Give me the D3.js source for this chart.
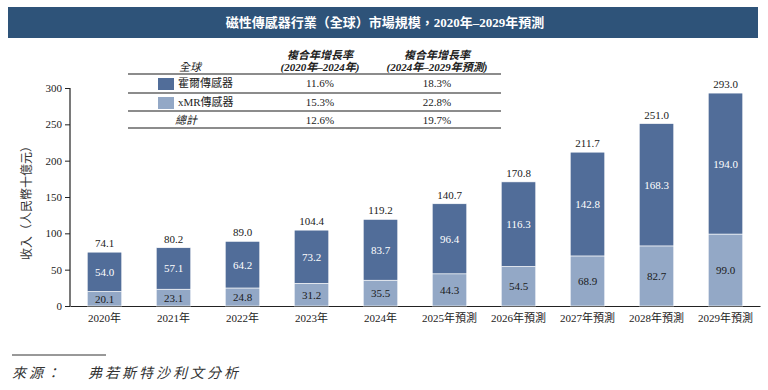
<!DOCTYPE html>
<html><head><meta charset="utf-8">
<script src="https://cdn.jsdelivr.net/npm/d3@7"></script>
<style>
body{margin:0;background:#fff;}
svg{display:block;}
text{font-family:"Liberation Serif","Times New Roman","Noto Sans CJK TC",serif;}
</style></head>
<body>
<svg id="c" width="768" height="390"></svg>
<script>
const categories = ["2020年","2021年","2022年","2023年","2024年","2025年預測","2026年預測","2027年預測","2028年預測","2029年預測"];
const xmrValues  = [20.1,23.1,24.8,31.2,35.5,44.3,54.5,68.9,82.7,99.0];
const hallValues = [54.0,57.1,64.2,73.2,83.7,96.4,116.3,142.8,168.3,194.0];
const totalValues= [74.1,80.2,89.0,104.4,119.2,140.7,170.8,211.7,251.0,293.0];
const yTicks = [0,50,100,150,200,250,300];
const seriesNames = ["霍爾傳感器","xMR傳感器"];
const cagr1 = ["11.6%","15.3%","12.6%"];
const cagr2 = ["18.3%","22.8%","19.7%"];
const colors = {hall:"#516d99", xmr:"#93a8c6", title:"#2e5379"};

const svg = d3.select("#c");
const cjk = '"Liberation Serif","Noto Sans CJK TC",serif';

// title bar
svg.append("rect").attr("x",8).attr("y",7).attr("width",750).attr("height",31).attr("fill",colors.title);
svg.append("text").attr("x",385).attr("y",27).attr("text-anchor","middle").attr("fill","#fff")
  .attr("font-size",13).attr("font-weight","bold").text("磁性傳感器行業（全球）市場規模，2020年–2029年預測");

const x = d3.scaleBand().domain(categories).range([70,760]).paddingInner(0.5).paddingOuter(0.25);
const y = d3.scaleLinear().domain([0,300]).range([306,88]);

// axes
const yAxis = d3.axisLeft(y).tickValues(yTicks).tickSize(5).tickFormat(d3.format("d"));
const gy = svg.append("g").attr("transform","translate(70,0)").call(yAxis);
gy.select(".domain").attr("stroke","#222").attr("stroke-width",1.2).attr("d","M-5,88.5H0V306.5");
gy.selectAll(".tick line").attr("stroke","#222");
gy.selectAll(".tick text").attr("font-size",11).attr("fill","#222").attr("x",-8).style("font-family",cjk);

const xAxis = d3.axisBottom(x).tickSize(0);
const gx = svg.append("g").attr("transform","translate(0,306)").call(xAxis);
gx.select(".domain").attr("stroke","#222").attr("stroke-width",1.2);
gx.selectAll(".tick text").attr("font-size",11).attr("fill","#222").attr("dy","1.2em").style("font-family",cjk);

// y label
svg.append("text").attr("transform","translate(31,200) rotate(-90)").attr("text-anchor","middle")
  .attr("font-size",12).attr("fill","#333").text("收入（人民幣十億元）");

// bars
const data = categories.map((c,i)=>({c, xmr:xmrValues[i], hall:hallValues[i], total:totalValues[i]}));
const g = svg.append("g");
g.selectAll(".xmr").data(data).enter().append("rect")
  .attr("x",d=>x(d.c)).attr("width",x.bandwidth())
  .attr("y",d=>y(d.xmr)).attr("height",d=>y(0)-y(d.xmr))
  .attr("fill",colors.xmr).attr("stroke","#fff").attr("stroke-width",0.6);
g.selectAll(".hall").data(data).enter().append("rect")
  .attr("x",d=>x(d.c)).attr("width",x.bandwidth())
  .attr("y",d=>y(d.xmr+d.hall)).attr("height",d=>y(d.xmr)-y(d.xmr+d.hall))
  .attr("fill",colors.hall).attr("stroke","#fff").attr("stroke-width",0.6);

const cx = d=>x(d.c)+x.bandwidth()/2;
g.selectAll(".lx").data(data).enter().append("text")
  .attr("x",cx).attr("y",d=>(y(0)+y(d.xmr))/2+4).attr("text-anchor","middle")
  .attr("font-size",11).attr("fill","#1a1a1a").text(d=>d.xmr.toFixed(1));
g.selectAll(".lh").data(data).enter().append("text")
  .attr("x",cx).attr("y",d=>(y(d.xmr)+y(d.xmr+d.hall))/2+4).attr("text-anchor","middle")
  .attr("font-size",11).attr("fill","#fff").text(d=>d.hall.toFixed(1));
g.selectAll(".lt").data(data).enter().append("text")
  .attr("x",cx).attr("y",d=>y(d.xmr+d.hall)-5).attr("text-anchor","middle")
  .attr("font-size",11).attr("fill","#1a1a1a").text(d=>d.total.toFixed(1));

// table
const t = svg.append("g");
t.append("rect").attr("x",120).attr("y",44).attr("width",382).attr("height",86).attr("fill","#fff");
t.append("text").attr("x",190).attr("y",71).attr("text-anchor","middle").attr("font-size",11)
  .attr("font-style","italic").attr("fill","#222").text("全球");
[[320,"(2020年–2024年)"],[437,"(2024年–2029年預測)"]].forEach(([cxx,s])=>{
  t.append("text").attr("x",cxx).attr("y",59).attr("text-anchor","middle").attr("font-size",11)
    .attr("font-style","italic").attr("font-weight","bold").attr("fill","#222").text("複合年增長率");
  t.append("text").attr("x",cxx).attr("y",71).attr("text-anchor","middle").attr("font-size",11)
    .attr("font-style","italic").attr("font-weight","bold").attr("fill","#222").text(s);
});
[74,93,111,128].forEach(yy=>{
  t.append("line").attr("x1",128).attr("x2",501).attr("y1",yy).attr("y2",yy)
   .attr("stroke","#666").attr("stroke-width",1.3);
});
const rowY=[87,106,124];
[colors.hall,colors.xmr].forEach((col,i)=>{
  t.append("rect").attr("x",158).attr("y",rowY[i]-9).attr("width",16).attr("height",12).attr("fill",col);
  t.append("text").attr("x",178).attr("y",rowY[i]).attr("font-size",11).attr("fill","#222").text(seriesNames[i]);
});
t.append("text").attr("x",175).attr("y",rowY[2]).attr("font-size",11).attr("font-style","italic").attr("fill","#222").text("總計");
rowY.forEach((yy,i)=>{
  t.append("text").attr("x",320).attr("y",yy).attr("text-anchor","middle").attr("font-size",11).attr("fill","#222").text(cagr1[i]);
  t.append("text").attr("x",437).attr("y",yy).attr("text-anchor","middle").attr("font-size",11).attr("fill","#222").text(cagr2[i]);
});

// footer
svg.append("line").attr("x1",12).attr("x2",106).attr("y1",355).attr("y2",355).attr("stroke","#333").attr("stroke-width",1);
svg.append("text").attr("x",12).attr("y",378).attr("font-size",14).attr("font-style","italic").attr("fill","#333")
  .attr("letter-spacing",3).text("來源：");
svg.append("text").attr("x",88).attr("y",378).attr("font-size",14).attr("font-style","italic").attr("fill","#333")
  .attr("letter-spacing",3).text("弗若斯特沙利文分析");
</script>
</body></html>
